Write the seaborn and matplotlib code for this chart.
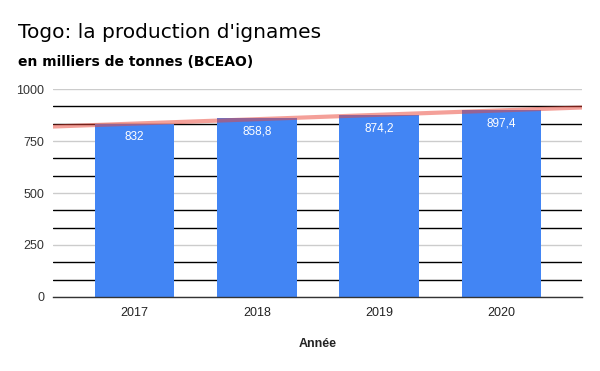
"""
Togo: production d'ignames (BCEAO), bar chart with linear trend line.
"""

import numpy as np
import pandas as pd
import matplotlib
matplotlib.use('Agg')
import matplotlib.pyplot as plt
import seaborn as sns
from matplotlib.ticker import MultipleLocator

YEARS  = ["2017", "2018", "2019", "2020"]
VALUES = [832, 858.8, 874.2, 897.4]
LABELS = ["832", "858,8", "874,2", "897,4"]

TITLE    = "Togo: la production d'ignames"
SUBTITLE = "en milliers de tonnes (BCEAO)"
XLABEL   = "Année"

BAR_COLOR   = "#4285f4"
TREND_COLOR = "#ea4335"


def main():
    df = pd.DataFrame({"annee": YEARS, "valeur": VALUES})

    sns.set_theme(style="white")
    plt.rcParams['font.family'] = ['Liberation Sans', 'DejaVu Sans']

    fig = plt.figure(figsize=(6, 3.71), dpi=100)
    ax = fig.add_axes([0.088, 0.1995, 0.882, 0.5605])

    sns.barplot(data=df, x="annee", y="valeur", color=BAR_COLOR,
                width=0.65, saturation=1, linewidth=0, ax=ax, zorder=3)

    # plot area is a bit wider on the right than on the left
    xlim = (-0.67, len(YEARS) - 1 + 0.66)
    ax.set_ylim(0, 1000)
    ax.set_xlim(*xlim)

    # minor black lines between the grey major lines
    ax.yaxis.set_major_locator(MultipleLocator(250))
    ax.yaxis.set_minor_locator(MultipleLocator(250 / 3))
    ax.grid(axis='y', which='major', color='#cccccc', linewidth=1, zorder=0)
    ax.grid(axis='y', which='minor', color='black', linewidth=1, zorder=0)
    ax.tick_params(axis='y', which='both', length=0, labelsize=9,
                   labelcolor='#333333', pad=6)
    ax.tick_params(axis='x', length=0, labelsize=9, labelcolor='#222222', pad=7)

    for s in ['top', 'right', 'left']:
        ax.spines[s].set_visible(False)
    ax.spines['bottom'].set_color('#333333')
    ax.spines['bottom'].set_linewidth(1)
    ax.spines['bottom'].set_zorder(4)

    # value labels inside the bars
    for i, (v, lab) in enumerate(zip(VALUES, LABELS)):
        ax.annotate(lab, (i, v), xytext=(0, -9.5), textcoords='offset points',
                    ha='center', va='center', color='white', fontsize=8.5,
                    zorder=5)

    # linear trend line across the whole plot width
    x = np.arange(len(VALUES))
    slope, intercept = np.polyfit(x, VALUES, 1)
    xs = np.array(xlim)
    ax.plot(xs, slope * xs + intercept, color=TREND_COLOR, alpha=0.5,
            linewidth=3, zorder=4, solid_capstyle='butt')

    ax.set_xlabel(XLABEL, fontsize=9, fontweight='bold', color='#222222',
                  labelpad=14)
    ax.set_ylabel("")

    fig.text(18 / 600, 1 - 33 / 371, TITLE, fontsize=14.5, color='black',
             va='center', ha='left', family='DejaVu Sans')
    fig.text(18 / 600, 1 - 62 / 371, SUBTITLE, fontsize=10, color='black',
             fontweight='bold', va='center', ha='left', family='DejaVu Sans')

    fig.savefig("out.png", dpi=100)
    plt.close(fig)


if __name__ == "__main__":
    main()
